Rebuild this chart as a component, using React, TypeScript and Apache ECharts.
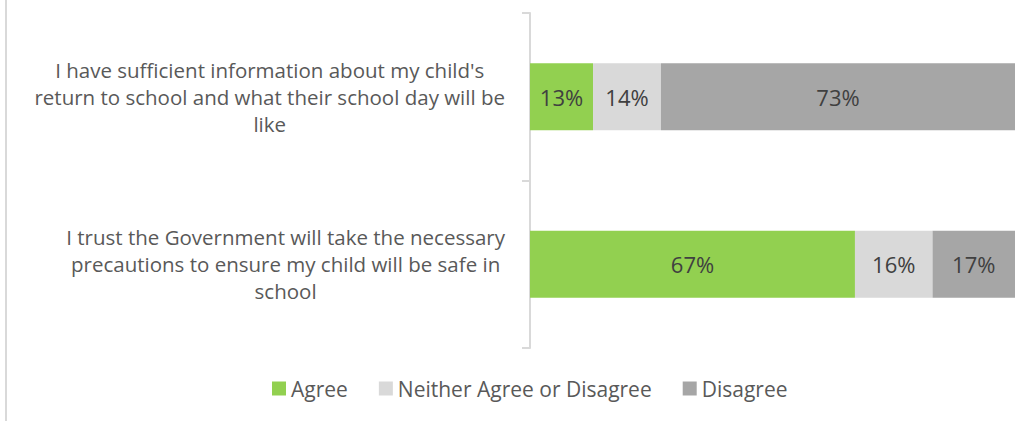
import React, { useEffect, useRef } from "react";
import * as echarts from "echarts";

const categories = [
  "I have sufficient information about my child's\nreturn to school and what their school day will be\nlike",
  "I trust the Government will take the necessary\nprecautions to ensure my child will be safe in\nschool",
];
const seriesNames = ["Agree", "Neither Agree or Disagree", "Disagree"];
const agree = [13, 67];
const neither = [14, 16];
const disagree = [73, 17];
const colors = ["#92d050", "#d9d9d9", "#a6a6a6"];

export default function App() {
  const ref = useRef<HTMLDivElement>(null);
  useEffect(() => {
    if (!ref.current) return;
    const chart = echarts.init(ref.current, undefined, { renderer: "svg" });
    const font = "'Open Sans', sans-serif";
    const values = [agree, neither, disagree];
    chart.setOption({
      animation: false,
      textStyle: { fontFamily: font },
      graphic: [
        {
          type: "line",
          shape: { x1: 6, y1: 0, x2: 6, y2: 421 },
          style: { stroke: "#d9d9d9", lineWidth: 2 },
        },
      ],
      grid: { left: 530, right: 17, top: 13, bottom: 73 },
      xAxis: { type: "value", min: 0, max: 100, show: false },
      yAxis: {
        type: "category",
        data: categories,
        inverse: true,
        axisLine: { show: true, lineStyle: { color: "#d9d9d9", width: 2 } },
        axisTick: { show: true, length: 8, lineStyle: { color: "#d9d9d9", width: 2 } },
        axisLabel: {
          margin: 25,
          fontSize: 20.5,
          lineHeight: 27,
          color: "#595959",
          fontFamily: font,
          align: "right",
          formatter: (v: string) =>
            v
              .split("\n")
              .map((l) => `{a|${l}}`)
              .join("\n"),
          rich: {
            a: {
              align: "center",
              fontSize: 20.5,
              lineHeight: 27,
              color: "#595959",
              fontFamily: font,
            },
          },
        },
      },
      legend: {
        bottom: 17,
        left: 267,
        itemWidth: 14,
        itemHeight: 14,
        itemGap: 31,
        icon: "rect",
        textStyle: { fontSize: 21, color: "#595959", fontFamily: font },
        data: seriesNames,
      },
      series: seriesNames.map((name, i) => ({
        name,
        type: "bar",
        stack: "total",
        barWidth: "40%",
        data: values[i],
        itemStyle: { color: colors[i] },
        label: {
          show: true,
          position: "inside",
          formatter: "{c}%",
          fontSize: 22,
          color: "#404040",
          fontFamily: font,
        },
      })),
    });
    return () => chart.dispose();
  }, []);
  return (
    <div
      ref={ref}
      style={{ position: "fixed", left: 0, top: 0, width: 1032, height: 421, background: "#fff" }}
    />
  );
}
